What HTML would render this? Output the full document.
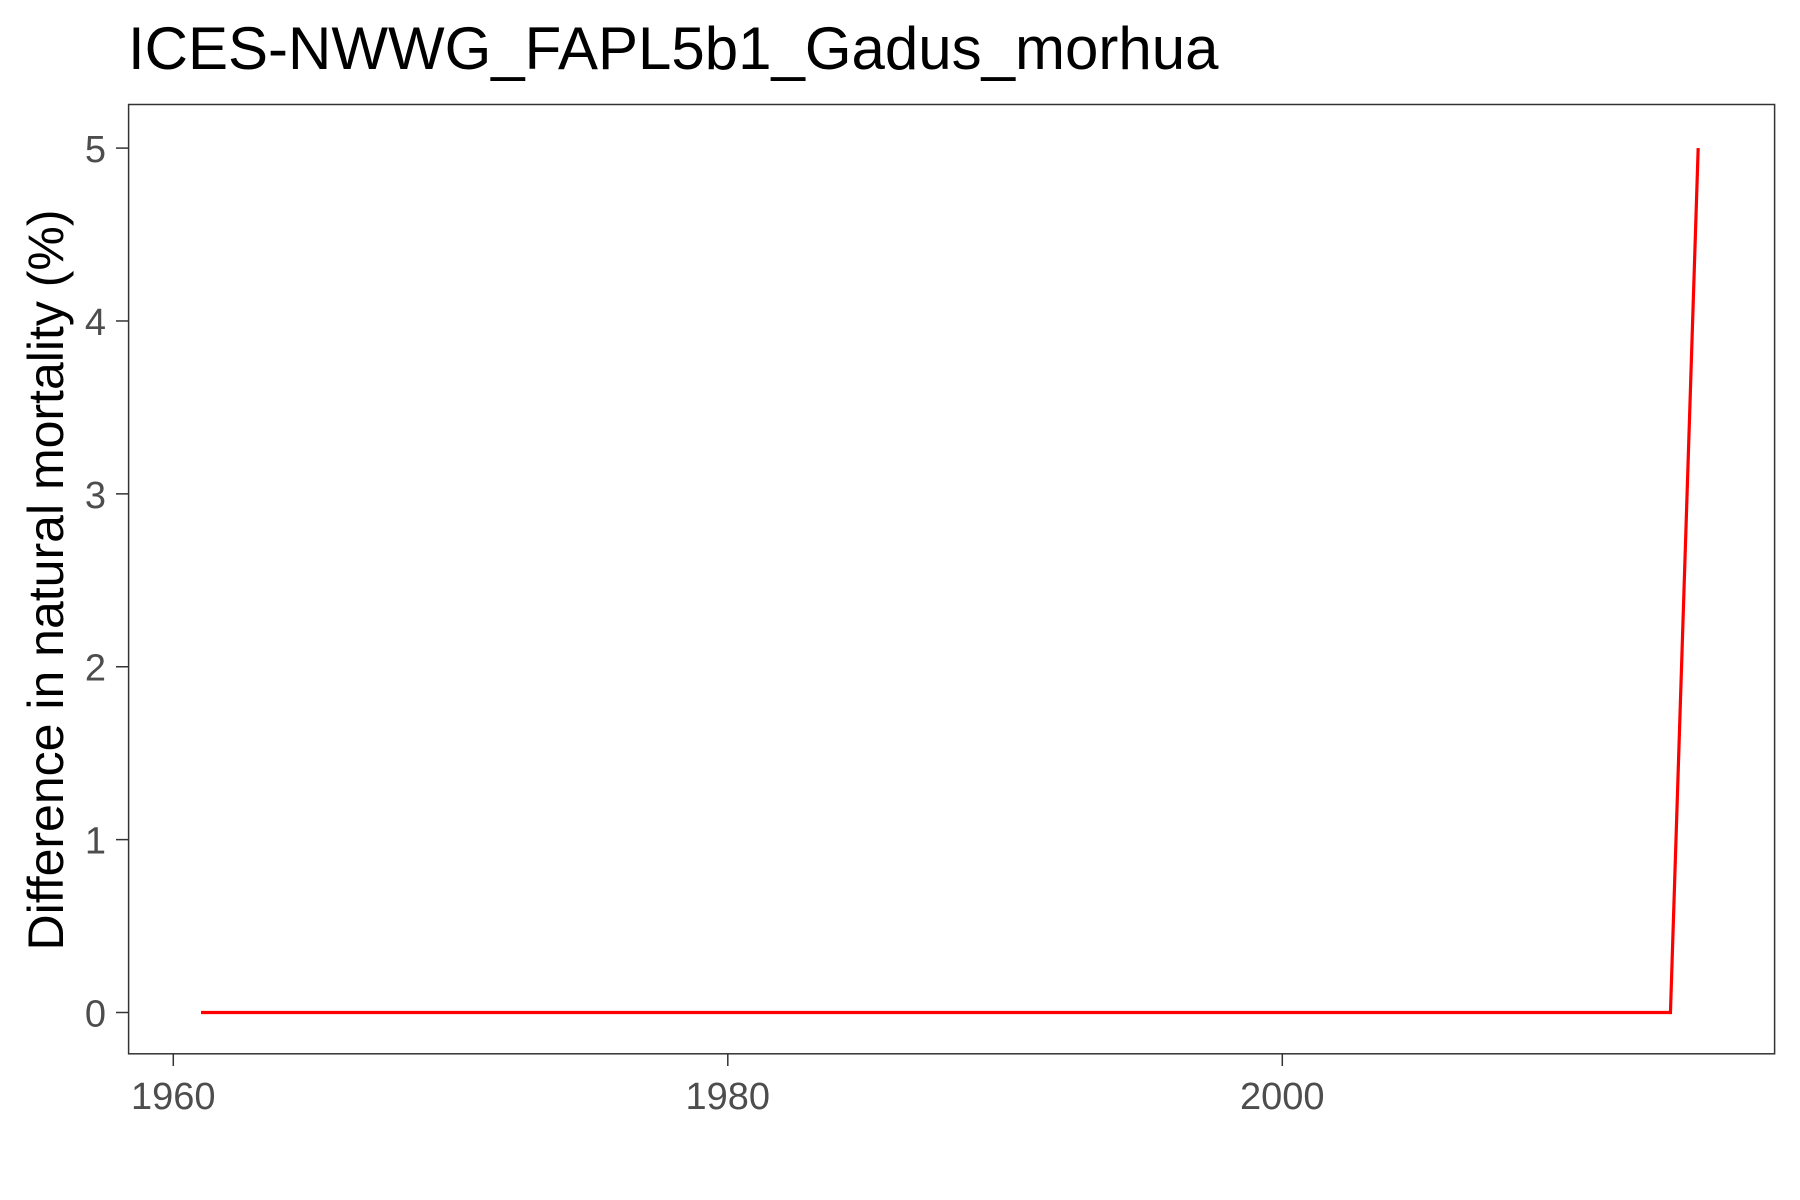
<!DOCTYPE html>
<html><head><meta charset="utf-8"><style>
body{margin:0;background:#fff;}
svg{display:block;font-family:"Liberation Sans",Arial,sans-serif;}
</style></head><body>
<svg id="chart" width="1800" height="1200">
<rect x="0" y="0" width="1800" height="1200" fill="#fff"/>
<text x="128" y="69" font-size="60" fill="#000">ICES-NWWG_FAPL5b1_Gadus_morhua</text>
<rect x="128.6" y="104.5" width="1646" height="949.3" fill="none" stroke="#333" stroke-width="1.5"/>
<g id="yticks"></g>
<g id="xticks"></g>
<g id="series"></g>
<text transform="translate(63,580) rotate(-90)" text-anchor="middle" font-size="50" fill="#000">Difference in natural mortality (%)</text>
</svg>
<script>
const years = [];
for (let y = 1961; y <= 2015; y++) years.push(y);
const values = years.map(y => y === 2015 ? 5 : 0);
const yTickValues = [0,1,2,3,4,5];
const xTickValues = [1960,1980,2000];
const NS="http://www.w3.org/2000/svg";
function sx(v){return 173.3+(v-1960)*(1282.3-173.3)/40;}
function sy(v){return 1012.5-(v)*(1012.5-148.1)/5;}
const yg=document.getElementById('yticks'), xg=document.getElementById('xticks'), sg=document.getElementById('series');
yTickValues.forEach(v=>{
  const l=document.createElementNS(NS,'line');
  l.setAttribute('x1',116);l.setAttribute('x2',128.6);l.setAttribute('y1',sy(v));l.setAttribute('y2',sy(v));
  l.setAttribute('stroke','#333');l.setAttribute('stroke-width','1.5');
  
  
  yg.appendChild(l);
  const t=document.createElementNS(NS,'text');
  t.setAttribute('x',106);t.setAttribute('y',sy(v)+14);t.setAttribute('text-anchor','end');
  t.setAttribute('font-size','38');t.setAttribute('fill','#4d4d4d');t.textContent=v;
  
  
  yg.appendChild(t);
});
xTickValues.forEach(v=>{
  const l=document.createElementNS(NS,'line');
  l.setAttribute('x1',sx(v));l.setAttribute('x2',sx(v));l.setAttribute('y1',1053.8);l.setAttribute('y2',1066);
  l.setAttribute('stroke','#333');l.setAttribute('stroke-width','1.5');
  
  
  xg.appendChild(l);
  const t=document.createElementNS(NS,'text');
  t.setAttribute('x',sx(v));t.setAttribute('y',1109);t.setAttribute('text-anchor','middle');
  t.setAttribute('font-size','38');t.setAttribute('fill','#4d4d4d');t.textContent=v;
  
  
  xg.appendChild(t);
});
const p=document.createElementNS(NS,'polyline');
p.setAttribute('points',years.map((y,i)=>sx(y)+','+sy(values[i])).join(' '));
p.setAttribute('fill','none');p.setAttribute('stroke','#ff0000');p.setAttribute('stroke-width','3.2');


sg.appendChild(p);
</script>
</body></html>
